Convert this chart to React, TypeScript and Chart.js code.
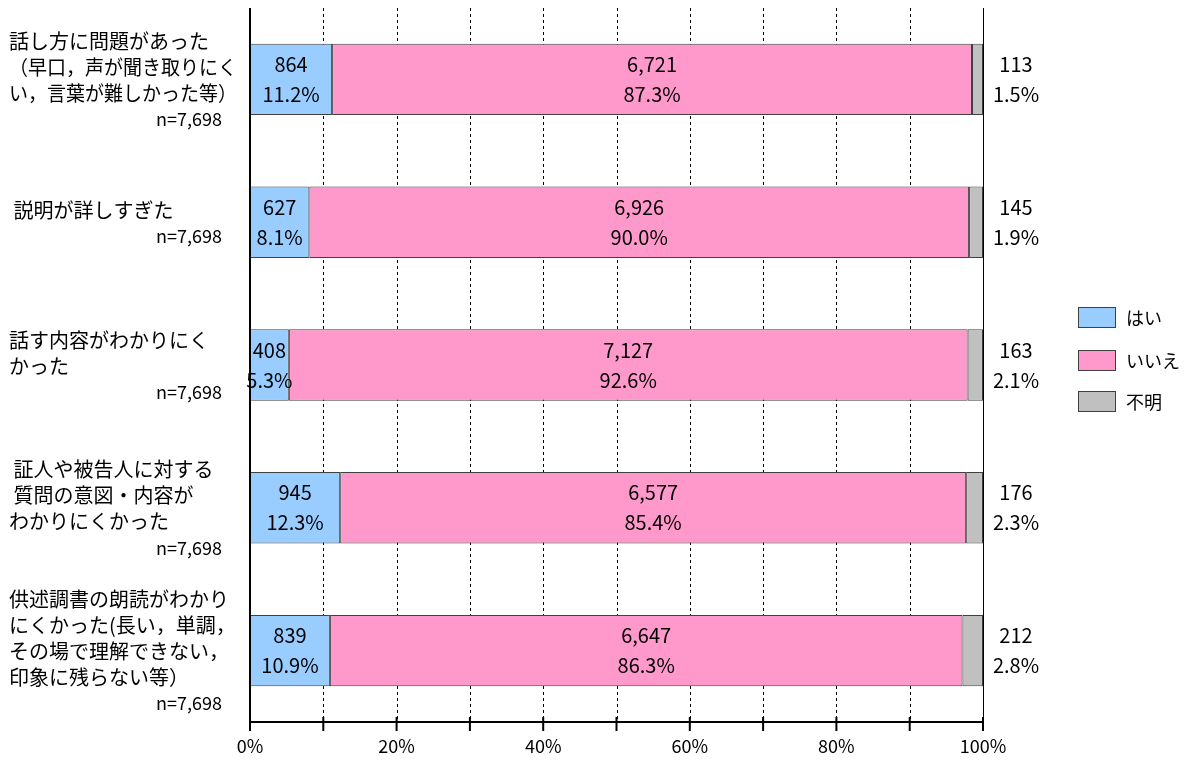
import { useEffect, useRef } from "react";
import { Chart, registerables } from "chart.js";

Chart.register(...registerables);

// ---- data ----
const categoryLines: string[][] = [
  ["話し方に問題があった", "（早口，声が聞き取りにく", "い，言葉が難しかった等）"],
  [" 説明が詳しすぎた"],
  ["話す内容がわかりにく", "かった"],
  [" 証人や被告人に対する", " 質問の意図・内容が", "わかりにくかった"],
  ["供述調書の朗読がわかり", "にくかった(長い，単調，", "その場で理解できない，", "印象に残らない等）"],
];
const sampleLabels = ["n=7,698", "n=7,698", "n=7,698", "n=7,698", "n=7,698"];
const seriesNames = ["はい", "いいえ", "不明"];
const yesCounts = [864, 627, 408, 945, 839];
const noCounts = [6721, 6926, 7127, 6577, 6647];
const unknownCounts = [113, 145, 163, 176, 212];
const yesPct = [11.2, 8.1, 5.3, 12.3, 10.9];
const noPct = [87.3, 90.0, 92.6, 85.4, 86.3];
const unknownPct = [1.5, 1.9, 2.1, 2.3, 2.8];
const xTickValues = [0, 10, 20, 30, 40, 50, 60, 70, 80, 90, 100];
const seriesColors = ["#99CCFF", "#FF99CC", "#C0C0C0"];

const FONT = '"Noto Sans CJK JP", "Noto Sans", sans-serif';

const countsBySeries = [yesCounts, noCounts, unknownCounts];
const pctBySeries = [yesPct, noPct, unknownPct];

const fmt = (n: number) => n.toLocaleString("en-US");

const overlayPlugin = {
  id: "overlay",
  beforeDatasetsDraw(chart: any) {
    const { ctx, chartArea, scales } = chart;
    const x = scales.x;
    ctx.save();
    ctx.strokeStyle = "#000";
    ctx.lineWidth = 1;
    xTickValues.forEach((v) => {
      if (v === 0) return;
      const px = Math.round(x.getPixelForValue(v)) + 0.5;
      ctx.setLineDash(v === 100 ? [] : [3, 3]);
      ctx.beginPath();
      ctx.moveTo(px, chartArea.top);
      ctx.lineTo(px, chartArea.bottom);
      ctx.stroke();
    });
    ctx.restore();
  },
  afterDatasetsDraw(chart: any) {
    const { ctx, chartArea, scales } = chart;
    const x = scales.x;
    const y = scales.y;
    ctx.save();
    // axes
    ctx.setLineDash([]);
    ctx.strokeStyle = "#000";
    ctx.lineWidth = 2;
    ctx.beginPath();
    ctx.moveTo(chartArea.left, chartArea.top);
    ctx.lineTo(chartArea.left, chartArea.bottom);
    ctx.lineTo(chartArea.right, chartArea.bottom);
    ctx.stroke();
    // tick marks crossing x axis
    xTickValues.forEach((v) => {
      const px = x.getPixelForValue(v);
      ctx.beginPath();
      ctx.moveTo(px, chartArea.bottom - 5);
      ctx.lineTo(px, chartArea.bottom + 9);
      ctx.stroke();
    });

    // data labels
    ctx.fillStyle = "#000";
    ctx.font = `20px ${FONT}`;
    ctx.textAlign = "center";
    ctx.textBaseline = "middle";
    categoryLines.forEach((_, i) => {
      const cy = y.getPixelForValue(i);
      let start = 0;
      for (let s = 0; s < 3; s++) {
        const end = start + pctBySeries[s][i];
        let cx;
        if (s < 2) {
          cx = (x.getPixelForValue(start) + x.getPixelForValue(end)) / 2;
        } else {
          cx = chartArea.right + 33;
        }
        ctx.fillText(fmt(countsBySeries[s][i]), cx, cy - 15);
        ctx.fillText(pctBySeries[s][i].toFixed(1) + "%", cx, cy + 15);
        start = end;
      }
    });

    // category labels
    categoryLines.forEach((lines, i) => {
      const cy = y.getPixelForValue(i);
      const total = lines.length + 1;
      const lh = 26;
      const top = cy - ((total - 1) * lh) / 2 + 1;
      ctx.textAlign = "left";
      ctx.font = `20px ${FONT}`;
      lines.forEach((ln, k) => {
        ctx.fillText(ln, 9, top + k * lh, 228);
      });
      ctx.textAlign = "right";
      ctx.font = `18px ${FONT}`;
      ctx.fillText(sampleLabels[i], 222, top + lines.length * lh);
    });

    // legend
    const legendX = 1078;
    const legendY = [307, 350, 391];
    ctx.font = `18px ${FONT}`;
    ctx.textAlign = "left";
    seriesNames.forEach((name, s) => {
      ctx.fillStyle = seriesColors[s];
      ctx.fillRect(legendX, legendY[s], 38, 21);
      ctx.strokeStyle = "#404040";
      ctx.lineWidth = 1;
      ctx.strokeRect(legendX + 0.5, legendY[s] + 0.5, 37, 20);
      ctx.fillStyle = "#000";
      ctx.fillText(name, legendX + 48, legendY[s] + 11);
    });
    ctx.restore();
  },
};

export default function App() {
  const canvasRef = useRef<HTMLCanvasElement | null>(null);

  useEffect(() => {
    if (!canvasRef.current) return;
    const chart = new Chart(canvasRef.current, {
      type: "bar",
      data: {
        labels: categoryLines.map((l) => l.join("")),
        datasets: seriesNames.map((name, s) => ({
          label: name,
          data: pctBySeries[s],
          backgroundColor: seriesColors[s],
          borderColor: "#404040",
          borderWidth: 1,
          borderSkipped: false,
          barPercentage: 0.5,
          categoryPercentage: 1,
        })),
      },
      options: {
        indexAxis: "y",
        animation: false,
        responsive: false,
        maintainAspectRatio: false,
        layout: { padding: { left: 0, right: 205, top: 8, bottom: 0 } },
        plugins: { legend: { display: false }, tooltip: { enabled: false } },
        scales: {
          x: {
            stacked: true,
            min: 0,
            max: 100,
            grid: { display: false, drawTicks: false },
            border: { display: false },
            ticks: {
              stepSize: 10,
              autoSkip: false,
              maxRotation: 0,
              padding: 13,
              color: "#000",
              font: { size: 18, family: FONT },
              callback: (v: any) => (Number(v) % 20 === 0 ? `${v}%` : ""),
            },
            afterFit: (scale: any) => {
              scale.height = 38;
            },
          },
          y: {
            stacked: true,
            grid: { display: false, drawTicks: false },
            border: { display: false },
            ticks: { display: false },
            afterFit: (scale: any) => {
              scale.width = 250;
            },
          },
        },
      },
      plugins: [overlayPlugin],
    } as any);
    return () => chart.destroy();
  }, []);

  return (
    <div style={{ position: "absolute", left: 0, top: 0, width: 1188, height: 760, background: "#fff" }}>
      <canvas ref={canvasRef} width={1188} height={760} />
    </div>
  );
}
